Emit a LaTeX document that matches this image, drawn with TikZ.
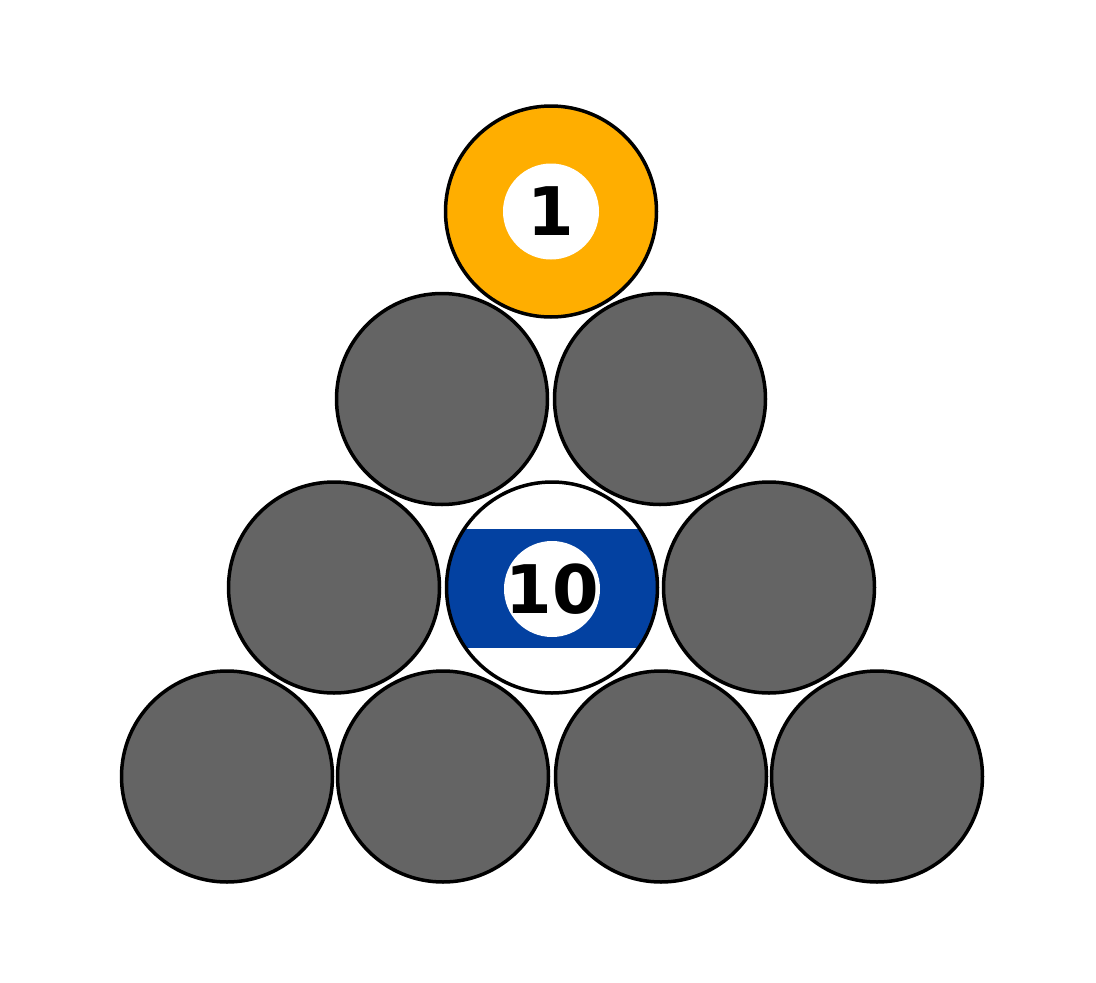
\documentclass[tikz,border=0pt]{standalone}
\usepackage{fontspec}
\newfontfamily\ballfont{DejaVu Sans}
\definecolor{ballorange}{RGB}{255,174,0}
\definecolor{ballgray}{RGB}{100,100,100}
\definecolor{ballblue}{RGB}{3,65,161}
\begin{document}
\begin{tikzpicture}[x=1pt,y=-1pt,
  ball/.style={circle,draw=black,line width=3.5pt,minimum size=211pt,inner sep=0pt},
  grayball/.style={ball,fill=ballgray},
  solidball/.style={ball,fill=ballorange},
  stripeball/.style={ball,fill=white,path picture={
      \fill[ballblue] ([yshift=-60pt]path picture bounding box.west) rectangle ([yshift=59pt]path picture bounding box.east);}},
  spot/.style={circle,fill=white,minimum size=96pt,inner sep=0pt},
  numlabel/.style={inner sep=0pt,font=\ballfont\bfseries\fontsize{67}{67}\selectfont}]
\useasboundingbox (0,0) rectangle (1096,983);
% row 1
\node[solidball] (b1) at (551,211.5) {};
\node[spot] (s1) at (b1.center) {};
\node[numlabel] (n1) at (s1.center) {1};
% row 2
\node[grayball] (b21) at (442,399) {};
\node[grayball] (b22) at (660,399) {};
% row 3
\node[grayball] (b31) at (334,587.5) {};
\node[stripeball] (b10) at (552,587.5) {};
\node[spot] (s10) at (552,589) {};
\node[numlabel] (n10) at (s10.center) {10};
\node[grayball] (b33) at (769,587.5) {};
% row 4
\node[grayball] (b41) at (227,776.5) {};
\node[grayball] (b42) at (443,776.5) {};
\node[grayball] (b43) at (661,776.5) {};
\node[grayball] (b44) at (877,776.5) {};
\end{tikzpicture}
\end{document}
